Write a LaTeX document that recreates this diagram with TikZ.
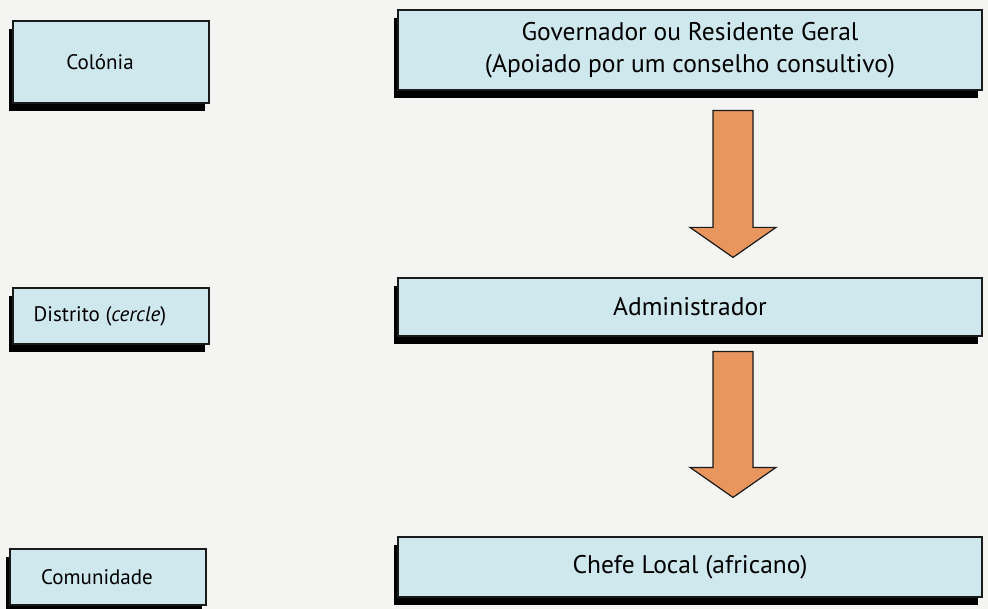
\documentclass[tikz,border=0pt]{standalone}
\usepackage{fontspec}
\setmainfont{PT Sans}
\usetikzlibrary{calc, shadows}

\definecolor{fundo}{HTML}{F4F4F2}
\definecolor{azulcaixa}{HTML}{CFE8EE}
\definecolor{laranja}{HTML}{E8955E}
\definecolor{contorno}{HTML}{1A1A1A}

% seta larga: #1 = topo da haste, #2 = ponta
\newcommand{\seta}[2]{%
  \draw[flecha] ($(#1)+(-20,0)$) -- ($(#1)+(20,0)$) -- ($(#2)+(20,-30)$)
    -- ($(#2)+(43,-30)$) -- (#2) -- ($(#2)+(-43,-30)$)
    -- ($(#2)+(-20,-30)$) -- cycle;}

\begin{document}
\begin{tikzpicture}[x=1pt, y=-1pt,
  caixa/.style={draw=contorno, line width=1.2pt, fill=azulcaixa,
    general shadow={fill=black, shadow xshift=-4pt, shadow yshift=-8pt},
    inner sep=0pt, align=center},
  nivel/.style={caixa, minimum width=196pt, font=\fontsize{21pt}{25pt}\selectfont,
    execute at begin node={\hspace*{-22pt}}},
  cargo/.style={caixa, minimum width=584pt, font=\fontsize{25.5pt}{32pt}\selectfont},
  flecha/.style={draw=contorno, line width=1.2pt, fill=laranja, line join=miter}]

% fundo da página
\fill[fundo] (0,0) rectangle (988,609);
\useasboundingbox (0,0) rectangle (988,609);

% níveis territoriais (coluna da esquerda)
\node[nivel, minimum height=82pt] (colonia) at (111,62) {Colónia};
\node[nivel, minimum height=56pt] (distrito) at (111,316) {Distrito (\textit{cercle})};
\node[nivel, minimum height=56pt] (comunidade) at (108,577) {Comunidade};

% autoridades (coluna da direita)
\node[cargo, minimum height=80pt] (governador) at (690,50)
  {Governador ou Residente Geral\\(Apoiado por um conselho consultivo)};
\node[cargo, minimum height=58pt] (administrador) at (690,307) {Administrador};
\node[cargo, minimum height=60pt] (chefe) at (690,567) {Chefe Local (africano)};

% setas de hierarquia
\coordinate (s1) at ($(governador.south)+(43,20)$);
\coordinate (p1) at ($(administrador.north)+(43,-20)$);
\coordinate (s2) at ($(administrador.south)+(43,15)$);
\coordinate (p2) at ($(chefe.north)+(43,-39)$);

\seta{s1}{p1}
\seta{s2}{p2}

\end{tikzpicture}
\end{document}
